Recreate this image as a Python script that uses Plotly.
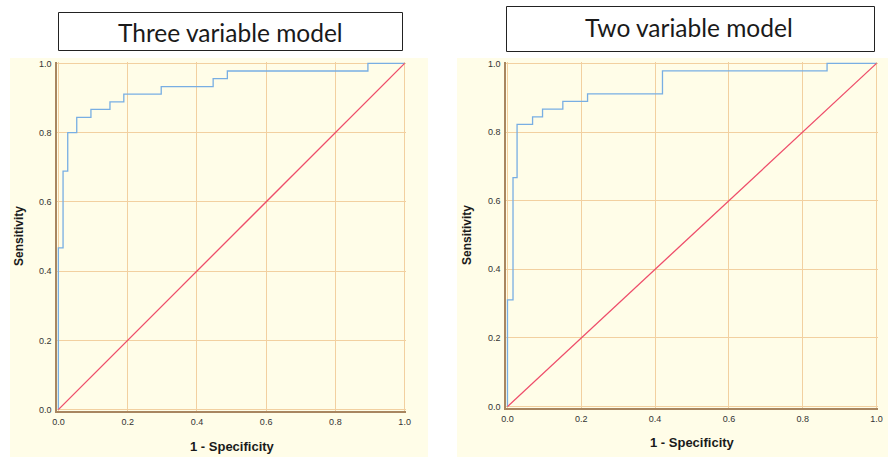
import plotly.graph_objects as go

# ---- data ----
titles = ["Three variable model", "Two variable model"]
tick_vals = [0.0, 0.2, 0.4, 0.6, 0.8, 1.0]
tick_text = ["0.0", "0.2", "0.4", "0.6", "0.8", "1.0"]

fpr_three = [0.0, 0.0, 0.0135, 0.027, 0.053, 0.094, 0.149, 0.189, 0.297, 0.447, 0.488, 0.894, 1.0]
tpr_three = [0.0, 0.467, 0.689, 0.800, 0.844, 0.867, 0.889, 0.911, 0.933, 0.956, 0.978, 1.0, 1.0]

fpr_two = [0.0, 0.0, 0.015, 0.026, 0.068, 0.095, 0.150, 0.217, 0.420, 0.866, 1.0]
tpr_two = [0.0, 0.311, 0.667, 0.822, 0.844, 0.867, 0.889, 0.911, 0.978, 1.0, 1.0]

ref_line = [0.0, 1.0]

W, H = 888, 457
BG = "#FFFDE8"
GRID = "#F2D0A0"
AXIS = "#A88660"
BLUE = "#78AEE3"
RED = "#EE4D6A"

fig = go.Figure()

fig.add_trace(go.Scatter(x=fpr_three, y=tpr_three, mode="lines", line=dict(color=BLUE, width=1.3, shape="hv"),
                         xaxis="x", yaxis="y", showlegend=False, hoverinfo="skip"))
fig.add_trace(go.Scatter(x=ref_line, y=ref_line, mode="lines", line=dict(color=RED, width=1.3),
                         xaxis="x", yaxis="y", showlegend=False, hoverinfo="skip"))
fig.add_trace(go.Scatter(x=fpr_two, y=tpr_two, mode="lines", line=dict(color=BLUE, width=1.3, shape="hv"),
                         xaxis="x2", yaxis="y2", showlegend=False, hoverinfo="skip"))
fig.add_trace(go.Scatter(x=ref_line, y=ref_line, mode="lines", line=dict(color=RED, width=1.3),
                         xaxis="x2", yaxis="y2", showlegend=False, hoverinfo="skip"))

def px(x):
    return x / W

def py(y):
    return 1 - y / H

axis_common = dict(range=[-0.004, 1.004], tickvals=tick_vals, ticktext=tick_text, showgrid=True,
                   gridcolor=GRID, gridwidth=1, zeroline=False, showline=True, linecolor=AXIS,
                   linewidth=1.5, ticks="", tickfont=dict(family="Arial", size=9, color="#333333"),
                   fixedrange=True, automargin=False)

fig.update_layout(
    width=W, height=H,
    margin=dict(l=0, r=0, t=0, b=0, autoexpand=False),
    paper_bgcolor="white",
    plot_bgcolor=BG,
    xaxis=dict(domain=[px(57), px(406)], anchor="y", ticklabelstandoff=1, **axis_common),
    yaxis=dict(domain=[py(411), py(62)], anchor="x", ticklabelstandoff=2, **axis_common),
    xaxis2=dict(domain=[px(506), px(878)], anchor="y2", ticklabelstandoff=1, **axis_common),
    yaxis2=dict(domain=[py(408), py(62)], anchor="x2", ticklabelstandoff=2, **axis_common),
)

shapes = [
    dict(type="rect", xref="paper", yref="paper", x0=px(10), x1=px(428), y0=py(457), y1=py(58),
         fillcolor=BG, line=dict(width=0), layer="below"),
    dict(type="rect", xref="paper", yref="paper", x0=px(457), x1=px(888), y0=py(457), y1=py(58),
         fillcolor=BG, line=dict(width=0), layer="below"),
    dict(type="rect", xref="paper", yref="paper", x0=px(58.5), x1=px(402.5), y0=py(50.5), y1=py(12.5),
         fillcolor="white", line=dict(color="#222222", width=1)),
    dict(type="rect", xref="paper", yref="paper", x0=px(506.5), x1=px(874.5), y0=py(51.5), y1=py(6.5),
         fillcolor="white", line=dict(color="#222222", width=1)),
]
fig.update_layout(shapes=shapes)

def ann(text, x, y, size, family, angle=0):
    return dict(text=text, x=px(x), y=py(y), xref="paper", yref="paper", showarrow=False,
                xanchor="center", yanchor="middle", textangle=angle,
                font=dict(family=family, size=size, color="#1a1a1a"))

annotations = [
    ann(titles[0], 230, 32, 24.5, "Lato"),
    ann(titles[1], 689, 28, 24.5, "Lato"),
    ann("<b>1 - Specificity</b>", 232, 446, 13, "Arial"),
    ann("<b>1 - Specificity</b>", 692, 442, 13, "Arial"),
    ann("<b>Sensitivity</b>", 19, 236, 12, "Arial", -90),
    ann("<b>Sensitivity</b>", 467, 235, 12, "Arial", -90),
]
fig.update_layout(annotations=annotations)

fig.write_html("out.html", config={"displayModeBar": False},
               post_script="document.body.style.margin='0';document.body.style.overflow='hidden';")
